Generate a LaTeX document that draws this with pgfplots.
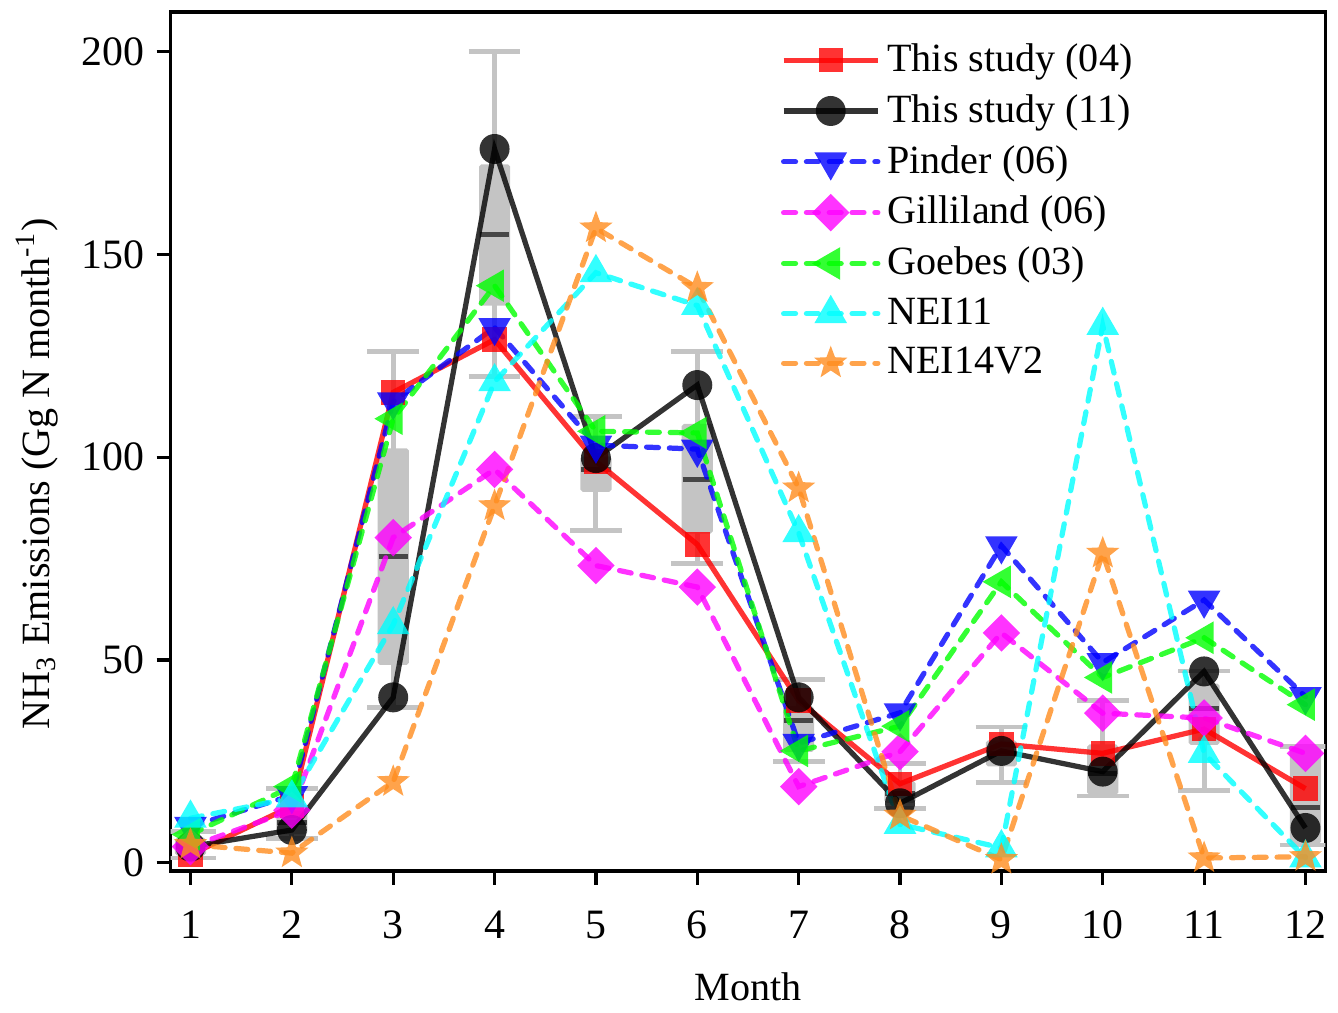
\documentclass[border=0pt]{standalone}
\usepackage{pgfplots}
\pgfplotsset{compat=1.18}
\usepgfplotslibrary{statistics}
\usepackage{fontspec}
\setmainfont{Liberation Serif}

\definecolor{boxgray}{RGB}{196,196,196}
\definecolor{medgray}{RGB}{70,70,70}
\definecolor{nora}{RGB}{255,140,30}
\definecolor{mag}{RGB}{255,0,255}
\definecolor{cya}{RGB}{0,255,255}
\definecolor{grn}{RGB}{0,255,0}
\definecolor{blu}{RGB}{0,0,255}
\definecolor{rd}{RGB}{255,0,0}

% fill-only marks (no outline)
\pgfdeclareplotmark{fstar}{%
  \pgfpathmoveto{\pgfpointpolar{90}{\pgfplotmarksize}}%
  \pgfpathlineto{\pgfpointpolar{126}{0.42\pgfplotmarksize}}%
  \pgfpathlineto{\pgfpointpolar{162}{\pgfplotmarksize}}%
  \pgfpathlineto{\pgfpointpolar{198}{0.42\pgfplotmarksize}}%
  \pgfpathlineto{\pgfpointpolar{234}{\pgfplotmarksize}}%
  \pgfpathlineto{\pgfpointpolar{270}{0.42\pgfplotmarksize}}%
  \pgfpathlineto{\pgfpointpolar{306}{\pgfplotmarksize}}%
  \pgfpathlineto{\pgfpointpolar{342}{0.42\pgfplotmarksize}}%
  \pgfpathlineto{\pgfpointpolar{18}{\pgfplotmarksize}}%
  \pgfpathlineto{\pgfpointpolar{54}{0.42\pgfplotmarksize}}%
  \pgfpathclose
  \pgfusepathqfill}
\pgfdeclareplotmark{fsq}{%
  \pgfpathrectanglecorners{\pgfpoint{-\pgfplotmarksize}{-\pgfplotmarksize}}{\pgfpoint{\pgfplotmarksize}{\pgfplotmarksize}}%
  \pgfusepathqfill}
\pgfdeclareplotmark{fcirc}{%
  \pgfpathcircle{\pgfpointorigin}{\pgfplotmarksize}%
  \pgfusepathqfill}
\pgfdeclareplotmark{ftri}{%
  \pgfpathmoveto{\pgfpointpolar{90}{\pgfplotmarksize}}%
  \pgfpathlineto{\pgfpointpolar{210}{\pgfplotmarksize}}%
  \pgfpathlineto{\pgfpointpolar{330}{\pgfplotmarksize}}%
  \pgfpathclose
  \pgfusepathqfill}

\begin{document}
\begin{tikzpicture}
\begin{axis}[
  name=ax,
  scale only axis,
  width=11.64cm, height=8.66cm,
  xmin=0.804, xmax=12.196,
  ymin=-2, ymax=209.8,
  xtick={1,2,3,4,5,6,7,8,9,10,11,12},
  ytick={0,50,100,150,200},
  tick align=outside,
  tick pos=left,
  major tick length=1.4mm,
  axis line style={line width=1pt},
  every tick/.style={black, line width=0.9pt},
  /pgf/number format/assume math mode=true,
  tick label style={font=\fontsize{12}{14}\selectfont},
  xticklabel style={yshift=-1.4mm},
  label style={font=\fontsize{11.5}{13}\selectfont},
  xlabel={Month},
  ylabel={NH\textsubscript{3} Emissions (Gg N month\textsuperscript{-1})},
  xlabel style={at={(axis description cs:0.5,-0.135)}, anchor=center},
  ylabel style={at={(axis description cs:-0.116,0.462)}, anchor=center},
  legend style={draw=none, fill=none, at={(0.528,0.972)}, anchor=north west,
    font=\fontsize{11.5}{13}\selectfont, row sep=1.1pt, inner sep=0pt},
  legend cell align=left,
  legend image code/.code={\draw[mark repeat=2,mark phase=2]
    plot coordinates {(0cm,0cm) (0.475cm,0cm) (0.95cm,0cm)};},
  bx/.style={forget plot, solid,
    boxplot/draw direction=y,
    boxplot/box extend=0.29, boxplot/whisker extend=0.51,
    boxplot/every box/.style={fill=boxgray, draw=boxgray, line width=0.5pt, rounded corners=0.5pt},
    boxplot/every whisker/.style={draw=boxgray, line width=1.4pt},
    boxplot/every median/.style={draw=medgray, line width=1.4pt}},
  sol/.style={line width=1.5pt, opacity=0.8},
  dsh/.style={line width=1.5pt, opacity=0.8, line cap=round,
    dash pattern=on 1.2mm off 1.1mm},
]

% gray box plots
\addplot[bx, boxplot prepared={draw position=1, lower whisker=1.2, lower quartile=2, median=4, upper quartile=6, upper whisker=7.8}] coordinates {};
\addplot[bx, boxplot prepared={draw position=2, lower whisker=6.1, lower quartile=7.3, median=10, upper quartile=12.7, upper whisker=18.3}] coordinates {};
\addplot[bx, boxplot prepared={draw position=3, lower whisker=38.4, lower quartile=49, median=75.5, upper quartile=102, upper whisker=126}] coordinates {};
\addplot[bx, boxplot prepared={draw position=4, lower whisker=120, lower quartile=137.6, median=155, upper quartile=172, upper whisker=200}] coordinates {};
\addplot[bx, boxplot prepared={draw position=5, lower whisker=82, lower quartile=91.7, median=97, upper quartile=100, upper whisker=110}] coordinates {};
\addplot[bx, boxplot prepared={draw position=6, lower whisker=73.8, lower quartile=81.4, median=94.6, upper quartile=108, upper whisker=126}] coordinates {};
\addplot[bx, boxplot prepared={draw position=7, lower whisker=25, lower quartile=27.6, median=35, upper quartile=38.4, upper whisker=45.2}] coordinates {};
\addplot[bx, boxplot prepared={draw position=8, lower whisker=13.4, lower quartile=15, median=17, upper quartile=20, upper whisker=24.4}] coordinates {};
\addplot[bx, boxplot prepared={draw position=9, lower whisker=19.8, lower quartile=24, median=27, upper quartile=30, upper whisker=33.5}] coordinates {};
\addplot[bx, boxplot prepared={draw position=10, lower whisker=16.5, lower quartile=17, median=22, upper quartile=29, upper whisker=40}] coordinates {};
\addplot[bx, boxplot prepared={draw position=11, lower whisker=17.8, lower quartile=29.3, median=38, upper quartile=44, upper whisker=47.3}] coordinates {};
\addplot[bx, boxplot prepared={draw position=12, lower whisker=4.4, lower quartile=4.9, median=13.7, upper quartile=28.6, upper whisker=28.6}] coordinates {};

% series
\addplot[sol, rd, mark=fsq, mark options={solid, fill=rd}, mark size=3.5pt] coordinates {
  (1,2) (2,14) (3,116) (4,129) (5,99) (6,78.5) (7,40) (8,19.5) (9,29.3) (10,27) (11,33) (12,18.3)};
\addlegendentry{This study (04)}
\addplot[sol, black, mark=fcirc, mark options={solid, fill=black}, mark size=4.3pt] coordinates {
  (1,4) (2,8.1) (3,40.8) (4,176) (5,99.8) (6,117.8) (7,40.8) (8,14.7) (9,27.6) (10,22.5) (11,47.2) (12,8.6)};
\addlegendentry{This study (11)}
\addplot[dsh, blu, mark=ftri, mark options={solid, rotate=180, fill=blu}, mark size=5.4pt] coordinates {
  (1,9) (2,16.6) (3,113.7) (4,132) (5,103) (6,102) (7,29.5) (8,37) (9,78.2) (10,49.4) (11,64.8) (12,41)};
\addlegendentry{Pinder (06)}
\addplot[dsh, mag, mark=fsq, mark options={solid, rotate=45, fill=mag}, mark size=3.8pt] coordinates {
  (1,4) (2,13) (3,80.2) (4,97) (5,73.3) (6,68) (7,18.8) (8,27.4) (9,56.7) (10,36.9) (11,35.7) (12,27)};
\addlegendentry{Gilliland (06)}
\addplot[dsh, grn, mark=ftri, mark options={solid, rotate=90, fill=grn}, mark size=5.4pt] coordinates {
  (1,7) (2,18.8) (3,109.5) (4,142.3) (5,106.4) (6,106) (7,27.6) (8,33.7) (9,69.3) (10,45.7) (11,55.5) (12,39)};
\addlegendentry{Goebes (03)}
\addplot[dsh, cya, mark=ftri, mark options={solid, fill=cya}, mark size=5.4pt] coordinates {
  (1,11) (2,16) (3,58.7) (4,118.6) (5,145.5) (6,137.4) (7,81.4) (8,9.5) (9,3.7) (10,132.5) (11,27) (12,1.2)};
\addlegendentry{NEI11}
\addplot[dsh, nora, mark=fstar, mark options={solid, fill=nora}, mark size=5pt] coordinates {
  (1,4.5) (2,2.4) (3,20) (4,88) (5,156.5) (6,141.8) (7,92.4) (8,11.7) (9,0.8) (10,76.3) (11,1.2) (12,1.5)};
\addlegendentry{NEI14V2}
\end{axis}
\path ([shift={(-1.72cm,-1.33cm)}]ax.south west) rectangle ([shift={(0.02cm,0.12cm)}]ax.north east);
\end{tikzpicture}
\end{document}
